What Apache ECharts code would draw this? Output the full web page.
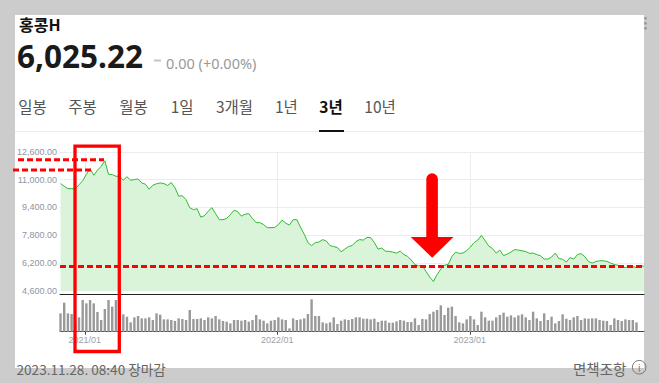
<!DOCTYPE html>
<html><head><meta charset="utf-8">
<script src="https://cdn.jsdelivr.net/npm/echarts@6/dist/echarts.min.js"></script>
<style>
html,body{margin:0;padding:0;background:#cccccc;width:659px;height:383px;overflow:hidden;}
#card{position:absolute;left:15px;top:15px;width:629px;height:353px;background:#fff;}
#c{position:absolute;left:0;top:0;width:659px;height:383px;}
</style>
</head><body><div id="card"></div><div id="c"></div>
<script>
// ---- data ----
const titleText = '홍콩H';
const lastPriceText = '6,025.22';
const changeText = '0.00 (+0.00%)';
const tabs = ['일봉','주봉','월봉','1일','3개월','1년','3년','10년'];
const activeTab = '3년';
const updatedText = '2023.11.28. 08:40 장마감';
const disclaimerText = '면책조항';
const firstWeekUTC = [2020, 10, 16];      // first weekly point (Mon)
const yearTicks = ['2021-01-01', '2022-01-01', '2023-01-01'];
const yMin = 4600, yMax = 12600, yStep = 1600;
const closeValues = [
10781,10625,10482,10490,10470,10712,10942,11316,11633,11259,
11546,11776,12093,11316,11299,11201,11201,10971,11172,10971,
11011,11046,10815,10741,10453,10683,10769,10815,10781,10666,
10838,10539,10050,10079,9849,9388,9273,9331,8841,8928,
9187,9388,9043,8698,8698,8767,8985,9244,9158,8899,
9014,9043,8755,8525,8525,8410,8237,8237,8249,8410,
8669,8496,8381,8698,8698,8266,7863,7374,7201,7374,
7403,7547,7460,7201,7144,7086,6844,7000,7144,7201,
7431,7547,7518,7673,7662,7374,7000,7057,6885,6867,
6827,6770,6885,6683,6580,6367,6108,6033,6050,5705,
5388,5129,5532,5849,6079,6108,6568,6827,6752,6770,
6913,7115,7374,7518,7788,7489,7172,7029,6770,6942,
6626,6712,6827,6971,6942,6902,6856,6758,6770,6683,
6614,6424,6424,6539,6770,6453,6413,6252,6511,6424,
6683,6741,6568,6280,6194,6280,6327,6327,6292,6194,
6108,6068,5964,5935,6004,5987,5935,6021,6025.22
];
const volumeValues = [
55,87,55,53,32,43,95,85,95,85,59,35,68,95,75,95,52,52,45,28,
43,47,40,40,43,35,55,51,37,37,35,32,40,38,35,65,38,38,40,35,
43,40,47,37,32,30,25,35,35,33,35,30,35,50,37,33,25,33,35,43,
37,35,10,40,35,37,40,53,97,47,47,28,25,28,43,23,33,
37,35,38,43,43,39,39,37,39,29,33,33,27,27,31,35,33,29,29,40,
20,38,37,53,60,65,79,50,72,75,47,28,25,37,47,37,20,60,43,33,
33,43,50,57,45,49,43,49,52,43,35,60,40,32,55,35,45,25,32,52,
39,35,43,47,35,40,39,40,40,35,33,32,20,40,35,32,37,35,35,28
];

// ---- helpers ----
const DAY = 86400000;
const week0 = Date.UTC(firstWeekUTC[0], firstWeekUTC[1], firstWeekUTC[2]);
const weekDates = closeValues.map((_, i) => week0 + i * 7 * DAY);
const yearTickTs = yearTicks.map(s => Date.parse(s + 'T00:00:00Z'));
const xMin = Date.UTC(2020, 10, 15);
const xMax = Date.UTC(2023, 10, 27, 6);
const fmtYM = v => { const d = new Date(v); return d.getUTCFullYear() + '/' + String(d.getUTCMonth() + 1).padStart(2, '0'); };
const fmtNum = v => Number(v).toLocaleString('en-US', {minimumFractionDigits: 2, maximumFractionDigits: 2});

const KR = '"Noto Sans CJK KR", "Noto Sans", sans-serif';
const tabX = [18.3, 68.3, 119.3, 170.7, 216, 275, 319.3, 364.3];

const graphics = [
  {type:'text', x:19, y:23.5, style:{text:titleText, font:'bold 16px ' + KR, lineHeight:16, fill:'#111', verticalAlign:'middle'}},
  {type:'text', x:17, y:55, style:{text:lastPriceText, font:'bold 31.5px "Noto Sans", sans-serif', lineHeight:30, fill:'#1a1a1a', verticalAlign:'middle'}},
  {type:'rect', shape:{x:154, y:59.5, width:7, height:2}, style:{fill:'#c4c4c4'}},
  {type:'text', x:166, y:63, style:{text:changeText, font:'14.5px "Noto Sans", sans-serif', lineHeight:15, fill:'#999', verticalAlign:'middle'}},
  {type:'rect', shape:{x:15, y:131, width:629, height:1}, style:{fill:'#ececec'}},
  {type:'rect', shape:{x:319, y:130, width:25, height:2}, style:{fill:'#111'}},
  {type:'text', x:16.5, y:369, style:{text:updatedText, font:'13.6px ' + KR, lineHeight:14, fill:'#666', verticalAlign:'middle'}},
  {type:'text', x:573, y:368, style:{text:disclaimerText, font:'14.5px ' + KR, lineHeight:15, fill:'#666', verticalAlign:'middle'}},
  {type:'circle', shape:{cx:639.2, cy:367.2, r:6.8}, style:{fill:'none', stroke:'#777', lineWidth:1}},
  {type:'text', x:639.2, y:367.6, style:{text:'i', font:'10px "Noto Sans", sans-serif', lineHeight:10, fill:'#777', align:'center', verticalAlign:'middle'}},
  {type:'circle', shape:{cx:645.5, cy:18.3, r:1.4}, style:{fill:'#999'}},
  {type:'circle', shape:{cx:645.5, cy:23.3, r:1.4}, style:{fill:'#999'}},
  {type:'circle', shape:{cx:645.5, cy:28.3, r:1.4}, style:{fill:'#999'}},
  // red annotations
  {type:'line', z:100, shape:{x1:18, y1:159.7, x2:104, y2:159.7}, style:{stroke:'#ff0000', lineWidth:3, lineDash:[6,3]}},
  {type:'line', z:100, shape:{x1:13, y1:170, x2:92, y2:170}, style:{stroke:'#ff0000', lineWidth:3, lineDash:[6,3]}},
  {type:'rect', z:100, shape:{x:75, y:146.2, width:44.3, height:205.3}, style:{fill:'none', stroke:'#ff0000', lineWidth:3.3}},
  {type:'rect', z:100, shape:{x:426.3, y:173.3, width:11.6, height:64.5, r:[5.8,5.8,0,0]}, style:{fill:'#ff0000'}},
  {type:'polygon', z:100, shape:{points:[[410.7,237],[453.5,237],[432.2,257.7]]}, style:{fill:'#ff0000'}}
];
tabs.forEach((t, i) => {
  const active = t === activeTab;
  graphics.push({type:'text', x:tabX[i], y:106, style:{text:t, font:(active ? 'bold ' : '') + '15.5px ' + KR, lineHeight:16, fill: active ? '#111' : '#555', verticalAlign:'middle'}});
});

const chart = echarts.init(document.getElementById('c'), null, {renderer:'svg'});
chart.setOption({
  animation:false,
  backgroundColor:'transparent',
  grid:[
    {left:60, right:15, top:152, bottom:92.3},
    {left:60, right:15, top:297, bottom:51.3}
  ],
  xAxis:[
    {type:'value', gridIndex:0, min:xMin, max:xMax, offset:3.3,
     axisLine:{show:true, lineStyle:{color:'#222', width:1}},
     axisTick:{show:false, customValues:yearTickTs},
     axisLabel:{show:false},
     splitLine:{show:true, lineStyle:{color:'#ececec', width:1}}},
    {type:'value', gridIndex:1, min:xMin, max:xMax,
     axisLine:{show:true, lineStyle:{color:'#444', width:1}},
     axisTick:{show:true, customValues:yearTickTs, length:3, lineStyle:{color:'#444'}},
     axisLabel:{show:true, customValues:yearTickTs, formatter:fmtYM, color:'#9a9fa8', fontSize:9, fontFamily:'"Liberation Sans", Arial, sans-serif', margin:4},
     splitLine:{show:false}}
  ],
  yAxis:[
    {type:'value', gridIndex:0, min:yMin, max:yMax, interval:yStep,
     axisLine:{show:false}, axisTick:{show:false},
     axisLabel:{formatter:fmtNum, color:'#8c95a5', fontSize:9, fontFamily:'"Liberation Sans", Arial, sans-serif', margin:3},
     splitLine:{show:true, lineStyle:{color:'#ececec', width:1}}},
    {type:'value', gridIndex:1, min:0, max:104, show:false}
  ],
  series:[
    {type:'line', xAxisIndex:0, yAxisIndex:0, data:weekDates.map((t, i) => [t, closeValues[i]]),
     symbol:'none', lineStyle:{color:'#2fbb2f', width:1}, areaStyle:{color:'#daf4da', opacity:1, origin:'start'},
     markLine:{silent:true, symbol:'none', label:{show:false}, animation:false,
       lineStyle:{color:'#ff0000', width:3, type:[6,3]},
       data:[{yAxis: closeValues[closeValues.length - 1]}]}},
    {type:'bar', xAxisIndex:1, yAxisIndex:1, data:volumeValues.map((v, i) => [weekDates[i], v]),
     barWidth:2.4, itemStyle:{color:'#999'}}
  ],
  graphic:graphics
});
</script>
</body></html>
